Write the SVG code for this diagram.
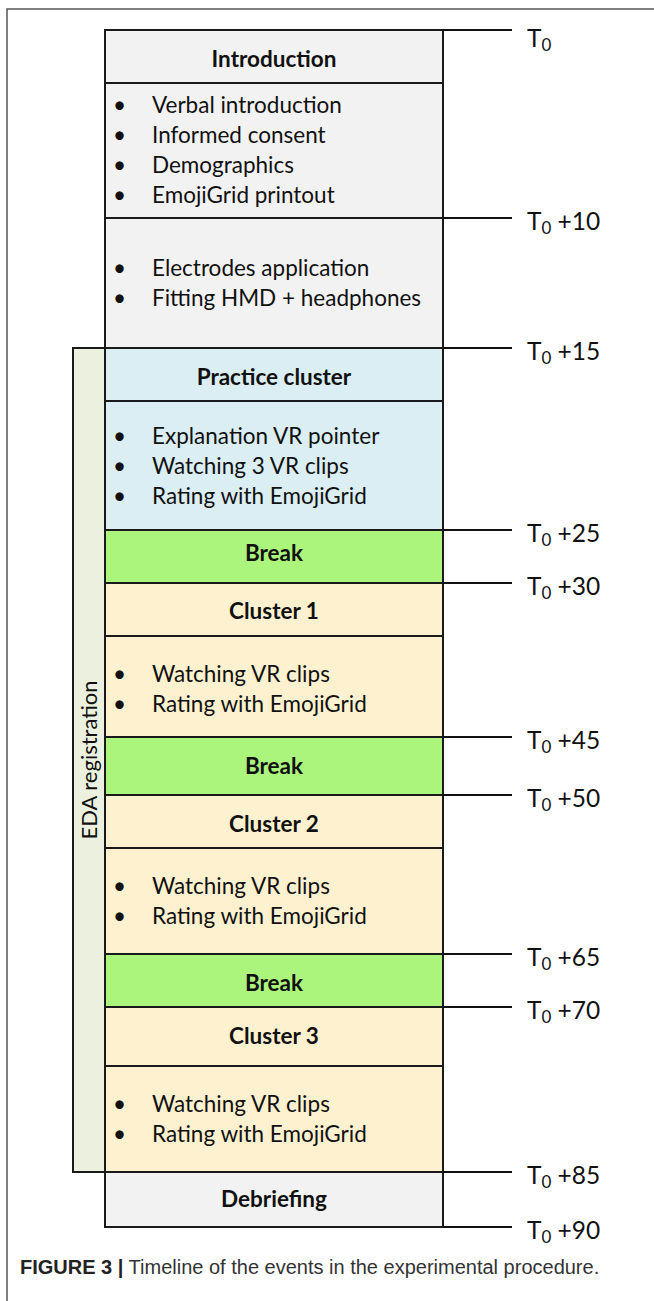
<svg xmlns="http://www.w3.org/2000/svg" width="654" height="1301" viewBox="0 0 654 1301">
<style>
.box{stroke:#1a1a1a;stroke-width:2}
.g{fill:#f2f2f2}.b{fill:#daeef3}.gr{fill:#abf57c}.y{fill:#fef1cf}
.h{font-family:Lato,"Open Sans",sans-serif;font-weight:bold;font-size:22.5px;fill:#111;text-anchor:middle}
.t{font-family:Lato,"Open Sans",sans-serif;font-size:22.5px;fill:#111}
.lab{font-family:Lato,"Open Sans",sans-serif;font-size:24.5px;fill:#111}
.sub{font-size:17px}
.tick{stroke:#111;stroke-width:2}
.cap{font-family:"Liberation Sans",Arial,sans-serif;font-size:20px;fill:#333}
</style>
<path d="M7 1301V9H654" fill="none" stroke="#555" stroke-width="1.5"/>
<g id="eda">
<rect x="73" y="348" width="32" height="824" fill="#ebf1de" class="box"/>
<text class="t" transform="translate(97 760) rotate(-90)" text-anchor="middle" style="font-size:22px">EDA registration</text>
</g>
<g id="intro">
<rect x="105" y="30" width="338" height="53" class="box g"/>
<text class="h" x="274" y="67">Introduction</text>
<rect x="105" y="83" width="338" height="135" class="box g"/>
<g class="t"><text x="113" y="113">•</text><text x="152" y="113">Verbal introduction</text>
<text x="113" y="143">•</text><text x="152" y="143">Informed consent</text>
<text x="113" y="173">•</text><text x="152" y="173">Demographics</text>
<text x="113" y="203">•</text><text x="152" y="203">EmojiGrid printout</text></g>
</g>
<g id="setup">
<rect x="105" y="218" width="338" height="130" class="box g"/>
<g class="t"><text x="113" y="276">•</text><text x="152" y="276">Electrodes application</text>
<text x="113" y="306">•</text><text x="152" y="306">Fitting HMD + headphones</text></g>
</g>
<g id="practice">
<rect x="105" y="348" width="338" height="53" class="box b"/>
<text class="h" x="274" y="385">Practice cluster</text>
<rect x="105" y="401" width="338" height="129" class="box b"/>
<g class="t"><text x="113" y="444">•</text><text x="152" y="444">Explanation VR pointer</text>
<text x="113" y="474">•</text><text x="152" y="474">Watching 3 VR clips</text>
<text x="113" y="504">•</text><text x="152" y="504">Rating with EmojiGrid</text></g>
</g>
<g id="break1">
<rect x="105" y="530" width="338" height="53" class="box gr"/>
<text class="h" x="274" y="561">Break</text>
</g>
<g id="cluster1">
<rect x="105" y="583" width="338" height="53" class="box y"/>
<text class="h" x="274" y="619">Cluster 1</text>
<rect x="105" y="636" width="338" height="101" class="box y"/>
<g class="t"><text x="113" y="682">•</text><text x="152" y="682">Watching VR clips</text>
<text x="113" y="712">•</text><text x="152" y="712">Rating with EmojiGrid</text></g>
</g>
<g id="break2">
<rect x="105" y="737" width="338" height="58" class="box gr"/>
<text class="h" x="274" y="774">Break</text>
</g>
<g id="cluster2">
<rect x="105" y="795" width="338" height="53" class="box y"/>
<text class="h" x="274" y="832">Cluster 2</text>
<rect x="105" y="848" width="338" height="106" class="box y"/>
<g class="t"><text x="113" y="894">•</text><text x="152" y="894">Watching VR clips</text>
<text x="113" y="924">•</text><text x="152" y="924">Rating with EmojiGrid</text></g>
</g>
<g id="break3">
<rect x="105" y="954" width="338" height="53" class="box gr"/>
<text class="h" x="274" y="991">Break</text>
</g>
<g id="cluster3">
<rect x="105" y="1007" width="338" height="59" class="box y"/>
<text class="h" x="274" y="1044">Cluster 3</text>
<rect x="105" y="1066" width="338" height="106" class="box y"/>
<g class="t"><text x="113" y="1112">•</text><text x="152" y="1112">Watching VR clips</text>
<text x="113" y="1142">•</text><text x="152" y="1142">Rating with EmojiGrid</text></g>
</g>
<g id="debriefing">
<rect x="105" y="1172" width="338" height="55" class="box g"/>
<text class="h" x="274" y="1207">Debriefing</text>
</g>
<g id="connectors">
<path class="tick" d="M443 30H512M443 218H512M443 348H512M443 530H512M443 583H512M443 737H512M443 795H512M443 954H512M443 1007H512M443 1172H512M443 1227H512"/>
</g>
<g id="labels" class="lab">
<text x="527" y="47">T<tspan class="sub" dy="4">0</tspan></text>
<text x="527" y="230">T<tspan class="sub" dy="4">0</tspan><tspan dy="-4"> +10</tspan></text>
<text x="527" y="360">T<tspan class="sub" dy="4">0</tspan><tspan dy="-4"> +15</tspan></text>
<text x="527" y="542">T<tspan class="sub" dy="4">0</tspan><tspan dy="-4"> +25</tspan></text>
<text x="527" y="595">T<tspan class="sub" dy="4">0</tspan><tspan dy="-4"> +30</tspan></text>
<text x="527" y="749">T<tspan class="sub" dy="4">0</tspan><tspan dy="-4"> +45</tspan></text>
<text x="527" y="807">T<tspan class="sub" dy="4">0</tspan><tspan dy="-4"> +50</tspan></text>
<text x="527" y="966">T<tspan class="sub" dy="4">0</tspan><tspan dy="-4"> +65</tspan></text>
<text x="527" y="1019">T<tspan class="sub" dy="4">0</tspan><tspan dy="-4"> +70</tspan></text>
<text x="527" y="1184">T<tspan class="sub" dy="4">0</tspan><tspan dy="-4"> +85</tspan></text>
<text x="527" y="1239">T<tspan class="sub" dy="4">0</tspan><tspan dy="-4"> +90</tspan></text>
</g>
<text class="cap" x="20" y="1274"><tspan font-weight="bold" fill="#222">FIGURE 3 |</tspan> Timeline of the events in the experimental procedure.</text>
</svg>
